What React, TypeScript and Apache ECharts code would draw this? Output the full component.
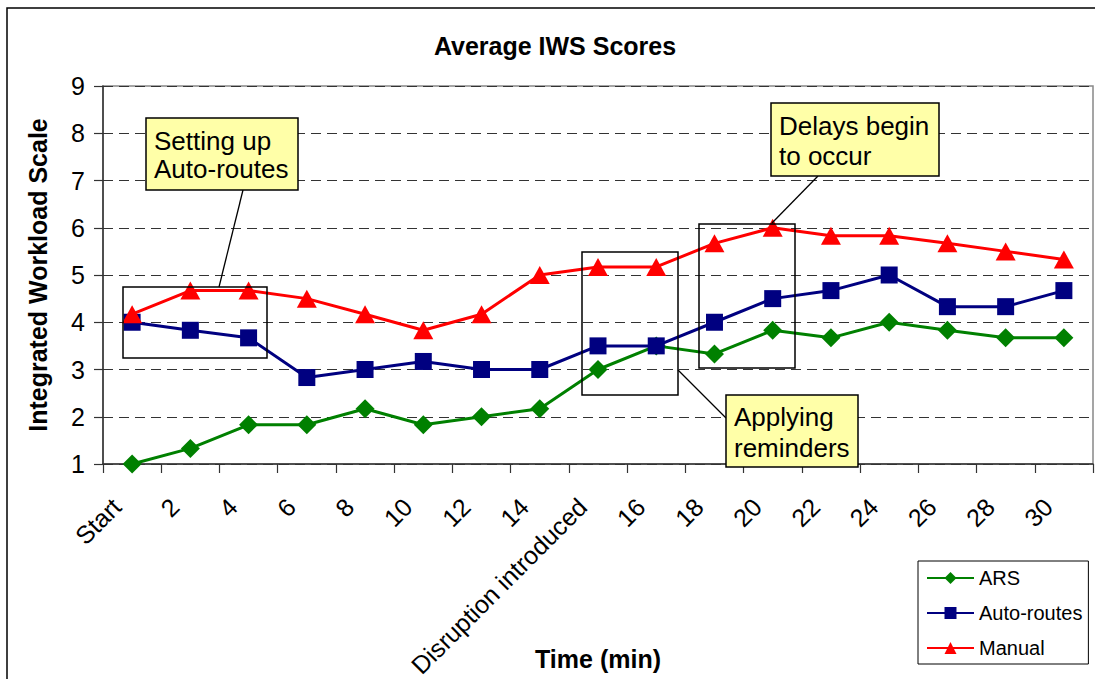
import React, { useEffect, useRef } from "react";
import * as echarts from "echarts";

const categories = ["Start", "2", "4", "6", "8", "10", "12", "14", "Disruption introduced", "16", "18", "20", "22", "24", "26", "28", "30"];
const arsValues = [1.0, 1.33, 1.83, 1.83, 2.17, 1.83, 2.0, 2.17, 3.0, 3.5, 3.33, 3.83, 3.67, 4.0, 3.83, 3.67, 3.67];
const autoRoutesValues = [4.0, 3.83, 3.67, 2.83, 3.0, 3.17, 3.0, 3.0, 3.5, 3.5, 4.0, 4.5, 4.67, 5.0, 4.33, 4.33, 4.67];
const manualValues = [4.17, 4.67, 4.67, 4.5, 4.17, 3.83, 4.17, 5.0, 5.17, 5.17, 5.67, 6.0, 5.83, 5.83, 5.67, 5.5, 5.33];
const seriesNames = ["ARS", "Auto-routes", "Manual"];
const titleText = "Average IWS Scores";
const xAxisTitle = "Time (min)";
const yAxisTitle = "Integrated Workload Scale";
const annotationTexts = ["Setting up\nAuto-routes", "Applying\nreminders", "Delays begin\nto occur"];

const FONT = "'Liberation Sans', Arial, Helvetica, sans-serif";
const YELLOW = "#FFFFA8";

export default function App() {
  const ref = useRef<HTMLDivElement>(null);
  useEffect(() => {
    if (!ref.current) return;
    const chart = echarts.init(ref.current, null, { renderer: "svg" });

    const calloutBox = (x: number, y: number, w: number, h: number, text: string, lh: number) => ({
      type: "group",
      z: 100,
      children: [
        { type: "rect", shape: { x, y, width: w, height: h }, style: { fill: YELLOW, stroke: "#000", lineWidth: 1.5 }, z: 100 },
        {
          type: "text",
          x: x + 8,
          y: y + h / 2 + 1,
          z: 101,
          style: { text, fill: "#000", font: `26px ${FONT}`, lineHeight: lh, textAlign: "left", textVerticalAlign: "middle" },
        },
      ],
    });
    const frame = (x1: number, y1: number, x2: number, y2: number) => ({
      type: "rect",
      z: 100,
      shape: { x: x1, y: y1, width: x2 - x1, height: y2 - y1 },
      style: { fill: "none", stroke: "#000", lineWidth: 1.5 },
    });
    const pointer = (x1: number, y1: number, x2: number, y2: number) => ({
      type: "line",
      z: 100,
      shape: { x1, y1, x2, y2 },
      style: { stroke: "#000", lineWidth: 1.3 },
    });

    chart.setOption({
      animation: false,
      backgroundColor: "#fff",
      grid: {
        left: 103, top: 86, width: 990, height: 378, show: true, borderColor: "#888", borderWidth: 1.5,
        containLabel: false, outerBoundsMode: "none",
      },
      xAxis: {
        type: "category",
        data: categories,
        boundaryGap: true,
        name: xAxisTitle,
        nameLocation: "middle",
        nameGap: 182,
        nameMoveOverlap: false,
        nameTextStyle: { fontFamily: FONT, fontSize: 25, fontWeight: "bold", color: "#000" },
        axisLine: { lineStyle: { color: "#333", width: 1.5 } },
        axisTick: { show: true, interval: 0, length: 9, lineStyle: { color: "#333", width: 1.2 } },
        axisLabel: {
          interval: 0, rotate: 45, margin: 23, padding: [0, 22, 0, 0],
          fontFamily: FONT, fontSize: 25, color: "#000", hideOverlap: false,
        },
        splitLine: { show: false },
      },
      yAxis: {
        type: "value",
        min: 1,
        max: 9,
        interval: 1,
        name: yAxisTitle,
        nameLocation: "middle",
        nameGap: 53,
        nameMoveOverlap: false,
        nameTextStyle: { fontFamily: FONT, fontSize: 25, fontWeight: "bold", color: "#000" },
        axisLine: { show: true, lineStyle: { color: "#333", width: 1.5 } },
        axisTick: { show: true, length: 9, lineStyle: { color: "#333", width: 1.2 } },
        axisLabel: { margin: 18, fontFamily: FONT, fontSize: 25, color: "#000" },
        splitLine: { show: true, lineStyle: { type: [10, 6], color: "#333", width: 1 } },
      },
      legend: {
        orient: "vertical",
        left: 918,
        top: 561,
        itemWidth: 47,
        itemHeight: 15,
        itemGap: 15,
        padding: [7, 6, 6, 8],
        borderColor: "#000",
        borderWidth: 1,
        backgroundColor: "#fff",
        textStyle: { fontFamily: FONT, fontSize: 20, color: "#000", lineHeight: 20 },
        data: seriesNames,
      },
      graphic: [
        {
          type: "rect",
          z: -10,
          silent: true,
          shape: { x: 7, y: 8, width: 1200, height: 800 },
          style: { fill: "none", stroke: "#000", lineWidth: 1.5 },
        },
        {
          type: "text",
          x: 555,
          y: 46,
          style: { text: titleText, fill: "#000", font: `bold 25px ${FONT}`, textAlign: "center", textVerticalAlign: "middle" },
        },
        frame(123, 287, 267, 358),
        frame(582, 252, 678, 395),
        frame(699, 224, 795, 368),
        pointer(243, 190, 219, 287),
        pointer(678, 370, 726, 418),
        pointer(818, 176, 772, 223),
        calloutBox(146, 118, 152, 72, annotationTexts[0], 28),
        calloutBox(726, 395, 132, 72, annotationTexts[1], 31),
        calloutBox(771, 103, 168, 73, annotationTexts[2], 30),
      ],
      series: [
        {
          name: seriesNames[0],
          type: "line",
          data: arsValues,
          symbol: "diamond",
          symbolSize: [19, 19],
          itemStyle: { color: "#008000" },
          lineStyle: { color: "#008000", width: 3 },
          z: 2,
        },
        {
          name: seriesNames[1],
          type: "line",
          data: autoRoutesValues,
          symbol: "rect",
          symbolSize: [17, 17],
          itemStyle: { color: "#000080" },
          lineStyle: { color: "#000080", width: 3 },
          z: 3,
        },
        {
          name: seriesNames[2],
          type: "line",
          data: manualValues,
          symbol: "triangle",
          symbolSize: [20, 18],
          itemStyle: { color: "#FF0000" },
          lineStyle: { color: "#FF0000", width: 3 },
          z: 4,
        },
      ],
    });
    return () => chart.dispose();
  }, []);

  return <div ref={ref} style={{ position: "absolute", left: 0, top: 0, width: 1095, height: 679 }} />;
}
